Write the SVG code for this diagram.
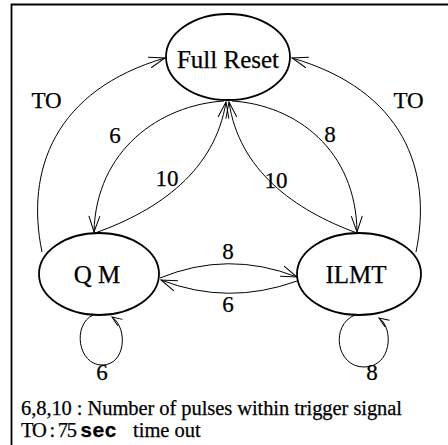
<svg xmlns="http://www.w3.org/2000/svg" width="448" height="445" viewBox="0 0 448 445">
<style>
.node{fill:none;stroke:#000;stroke-width:1.8}
.edge{fill:none;stroke:#000;stroke-width:1}
text{font-family:"Liberation Serif","DejaVu Serif","Times New Roman",serif;fill:#000;stroke:#000;stroke-width:0.25}
.nl{font-size:25px;text-anchor:middle}
.el{font-size:23px;text-anchor:middle}
.lg{font-size:20.5px}
tspan.mono{font-family:"Liberation Mono","DejaVu Sans Mono","Courier New",monospace;font-weight:bold}
</style>
<defs>
<marker id="arr" markerUnits="userSpaceOnUse" viewBox="0 0 18 14" refX="17" refY="7" markerWidth="18" markerHeight="14" orient="auto">
<path d="M1,1.5 L17,7 L1,12.5" fill="none" stroke="#000" stroke-width="1"/>
</marker>
<marker id="arrs" markerUnits="userSpaceOnUse" viewBox="0 0 12 10" refX="11" refY="5" markerWidth="12" markerHeight="10" orient="auto">
<path d="M1,1 L11,5 L1,9" fill="none" stroke="#000" stroke-width="1"/>
</marker>
</defs>
<rect width="448" height="445" fill="#fff"/>
<g id="frame">
<path d="M11.5,445 L11.5,4.5 L448,4.5" fill="none" stroke="#000" stroke-width="1.8"/>
</g>
<g id="connectors">
<path class="edge" d="M42,252 C25,170 55,90 165,58" marker-end="url(#arr)"/>
<path class="edge" d="M416,252 C433,170 403,90 292,58" marker-end="url(#arr)"/>
<path class="edge" d="M224,101 C160,105 96,150 94,232" marker-end="url(#arr)"/>
<path class="edge" d="M232,101 C296,105 356,150 357,232" marker-end="url(#arr)"/>
<path class="edge" d="M95,233 C160,210 215,170 226,102" marker-end="url(#arr)"/>
<path class="edge" d="M357,233 C294,210 239,170 229,102" marker-end="url(#arr)"/>
<path class="edge" d="M160,278 Q228,250 297,277" marker-end="url(#arr)"/>
<path class="edge" d="M297,281 Q228,306 161,280" marker-end="url(#arr)"/>
<path class="edge" d="M93,315 C72,325 78,365 102,365 C126,365 128,328 112,317" marker-end="url(#arrs)"/>
<path class="edge" d="M355,315 C330,325 336,367 364,367 C392,367 394,328 379,318" marker-end="url(#arrs)"/>
</g>
<g id="full-reset">
<ellipse class="node" cx="228" cy="57" rx="62" ry="43"/>
<text class="nl" x="228" y="68">Full Reset</text>
</g>
<g id="qm">
<ellipse class="node" cx="99" cy="274" rx="60" ry="41"/>
<text class="nl" x="97" y="283">Q M</text>
</g>
<g id="ilmt">
<ellipse class="node" cx="359" cy="274" rx="62" ry="41"/>
<text class="nl" x="356" y="283">ILMT</text>
</g>
<g id="labels">
<text class="el" x="46.5" y="108">TO</text>
<text class="el" x="408.5" y="108">TO</text>
<text class="el" x="115" y="143">6</text>
<text class="el" x="330" y="142">8</text>
<text class="el" x="167" y="186">10</text>
<text class="el" x="276" y="188">10</text>
<text class="el" x="228" y="259">8</text>
<text class="el" x="228" y="312">6</text>
<text class="el" x="102" y="380">6</text>
<text class="el" x="372" y="380">8</text>
</g>
<g id="legend">
<text class="lg" x="21" y="414.5" textLength="381">6,8,10 : Number of pulses within trigger signal</text>
<text class="lg" x="21" y="436.5" textLength="56">TO : 75</text>
<text class="lg" y="436.5"><tspan class="mono" x="80">sec</tspan><tspan x="133">time out</tspan></text>
</g>
</svg>
